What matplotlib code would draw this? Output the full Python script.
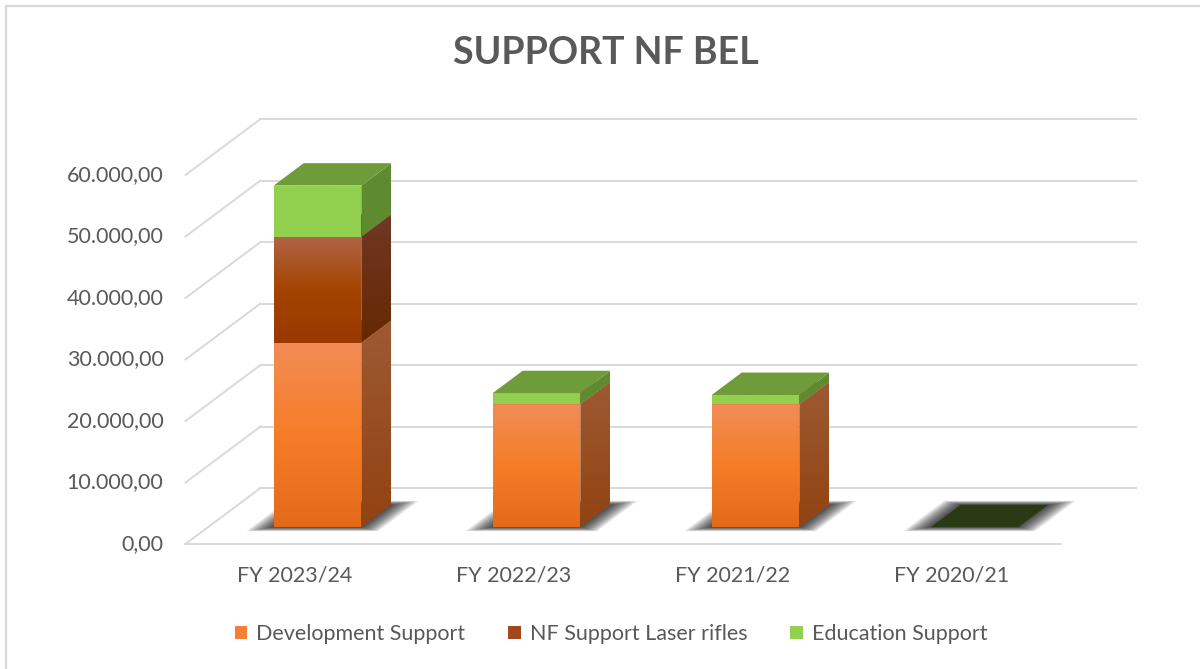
import numpy as np
import matplotlib
matplotlib.use("Agg")
import matplotlib.pyplot as plt
from matplotlib.patches import Polygon, Patch
from matplotlib.lines import Line2D
from matplotlib.colors import LinearSegmentedColormap

plt.rcParams['font.family'] = ['Lato', 'DejaVu Sans']

# data
categories = ["FY 2023/24", "FY 2022/23", "FY 2021/22", "FY 2020/21"]
development = [30000, 20000, 20000, 0]
laser_rifles = [17250, 0, 0, 0]
education = [8300, 1800, 1500, 0]
series_names = ["Development Support", "NF Support Laser rifles", "Education Support"]
y_ticks = [0, 10000, 20000, 30000, 40000, 50000, 60000]

# face styles per series: front gradient (top->bottom), side gradient, top colour
front_cols = [["#f28c55", "#f57d28", "#e46a1a"],
              ["#b06448", "#a44400", "#993900"],
              ["#92d050", "#92d050"]]
side_cols = [["#9d5a33", "#924312"],
             ["#713825", "#652800"],
             ["#5f8b30", "#5f8b30"]]
top_cols = ["#c0632a", "#7a3a10", "#6f9c3b"]
legend_cols = ["#f47f35", "#a3471c", "#92d050"]
empty_top = "#2a3a15"
grid_c = "#d9d9d9"
text_c = "#595959"

W, H = 1200, 669
fig = plt.figure(figsize=(12, 6.69), dpi=100)
ax = fig.add_axes([0, 0, 1, 1])
ax.axis("off")
ax.set_autoscale_on(False)

# front plane: category i at 295 + 219*i px, value 0 at 544 px from top
px_cat = 219.0
px_val = 61.5 / 10000
x0px, y0px = 295.0, 544.0
xlim = (-x0px / px_cat, (W - x0px) / px_cat)
ylim = ((y0px - H) / px_val, y0px / px_val)
ax.set_xlim(*xlim)
ax.set_ylim(*ylim)

# oblique depth vector (full floor depth)
DX = 75 / px_cat
DY = 56 / px_val
bw = 0.40          # bar width
zf, zb = 0.30, 0.70  # bar front / back depth


def P(x, v, z):
    return (x + z * DX, v + z * DY)


def face(verts, colors, zorder):
    poly = Polygon(verts, closed=True, facecolor="none", edgecolor="none")
    ax.add_patch(poly)
    xs = [p[0] for p in verts]
    ys = [p[1] for p in verts]
    cmap = LinearSegmentedColormap.from_list("f", colors)
    grad = np.linspace(0, 1, 64).reshape(-1, 1)
    im = ax.imshow(grad, cmap=cmap, extent=(min(xs), max(xs), min(ys), max(ys)),
                   aspect="auto", origin="upper", zorder=zorder, interpolation="bilinear")
    im.set_clip_path(poly)


def fmt(v):
    s = f"{v:,.2f}"
    return s.replace(",", "X").replace(".", ",").replace("X", ".")


# walls and gridlines
n = len(categories)
for v in y_ticks:
    a, b = P(-0.5, v, 1), P(n - 0.5, v, 1)
    c = P(-0.5, v, 0)
    ax.plot([a[0], b[0]], [a[1], b[1]], color=grid_c, lw=1.4, zorder=1)
    ax.plot([c[0], a[0]], [c[1], a[1]], color=grid_c, lw=1.4, zorder=1)
    ax.text(c[0] - 22 / px_cat, v, fmt(v), ha="right", va="center",
            fontsize=15.5, color=text_c)
f0, f1 = P(-0.5, 0, 0), P(n - 0.5, 0, 0)
ax.plot([f0[0], f1[0]], [f0[1], f1[1]], color=grid_c, lw=1.4, zorder=1)

for i, cat in enumerate(categories):
    ax.text(i, -31 / px_val, cat, ha="center", va="center", fontsize=15.5, color=text_c)

# soft shadows under the bars
for i in range(n):
    for k in range(10):
        e = 0.010 * (k + 1)
        ez = 0.007 * (k + 1)
        sh = [P(i - bw / 2 - e, 0, zf - ez), P(i + bw / 2 + e, 0, zf - ez),
              P(i + bw / 2 + e, 0, zb + ez), P(i - bw / 2 - e, 0, zb + ez)]
        ax.add_patch(Polygon(sh, closed=True, facecolor="black", edgecolor="none",
                             alpha=0.1, zorder=2))

# stacked bars
stack = [development, laser_rifles, education]
for i in range(n):
    base = 0
    zo = 10
    for s, vals in enumerate(stack):
        val = vals[i]
        if val <= 0:
            continue
        top = base + val
        xl, xr = i - bw / 2, i + bw / 2
        front = [P(xl, base, zf), P(xr, base, zf), P(xr, top, zf), P(xl, top, zf)]
        side = [P(xr, base, zf), P(xr, base, zb), P(xr, top, zb), P(xr, top, zf)]
        lid = [P(xl, top, zf), P(xr, top, zf), P(xr, top, zb), P(xl, top, zb)]
        face(front, front_cols[s], zo)
        face(side, side_cols[s], zo + 1)
        ax.add_patch(Polygon(lid, closed=True, facecolor=top_cols[s], edgecolor="none", zorder=zo + 2))
        zo += 3
        base = top
    if base == 0:
        xl, xr = i - bw / 2, i + bw / 2
        lid = [P(xl, 0, zf), P(xr, 0, zf), P(xr, 0, zb), P(xl, 0, zb)]
        ax.add_patch(Polygon(lid, closed=True, facecolor=empty_top, edgecolor="none", zorder=zo))

ax.set_xlim(*xlim)
ax.set_ylim(*ylim)

fig.text(606 / W, 1 - 53 / H, "SUPPORT NF BEL", ha="center", va="center",
         fontsize=27, fontweight="bold", color=text_c)

handles = [Patch(facecolor=c, edgecolor="none", label=nm) for c, nm in zip(legend_cols, series_names)]
fig.legend(handles=handles, loc="center", bbox_to_anchor=(611 / W, 1 - 634 / H), ncol=3,
           frameon=False, fontsize=15.5, handlelength=0.6, handleheight=0.6,
           handletextpad=0.4, columnspacing=2.0, labelcolor=text_c)

fig.add_artist(Line2D([6 / W, 6 / W, 1.0], [0.0, 1 - 6 / H, 1 - 6 / H],
                      transform=fig.transFigure, color=grid_c, lw=1.6))

fig.savefig("out.png", dpi=100)
